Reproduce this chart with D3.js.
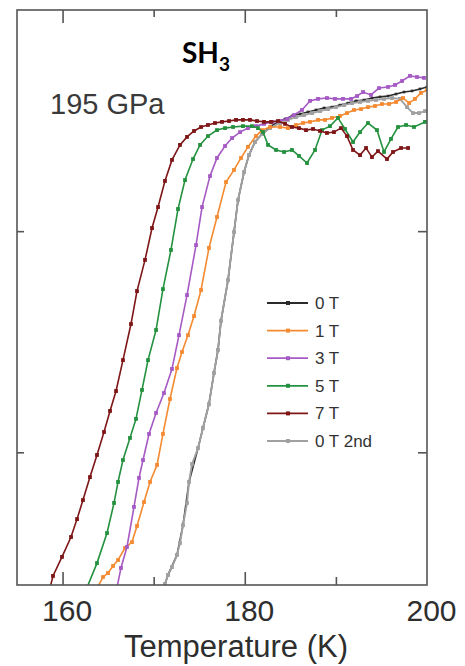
<!DOCTYPE html>
<html>
<head>
<meta charset="utf-8">
<script src="https://cdn.jsdelivr.net/npm/d3@7"></script>
<style>
  html, body { margin: 0; padding: 0; background: #fff; }
  svg { display: block; }
</style>
</head>
<body>
<svg id="chart" width="465" height="666"></svg>
<script>
// temperature (K), resistance (arb. units)
const t0 = [ 171.02, 171.57, 172.56, 173.22, 173.88, 174.87, 175.41, 176.07, 176.62, 177.06, 177.39, 178.16, 178.82, 179.26, 179.92, 180.46, 181.12, 181.89, 182.88, 183.65, 184.42, 185.18, 186.06, 186.94, 187.82, 188.70, 189.57, 190.45, 191.33, 192.21, 193.09, 193.96, 194.84, 195.72, 196.60, 197.48, 198.35, 199.23, 200.00 ];
const r0 = [ 0.377, 0.445, 0.536, 0.671, 0.866, 1.019, 1.110, 1.218, 1.359, 1.463, 1.594, 1.779, 1.996, 2.141, 2.267, 2.344, 2.403, 2.439, 2.475, 2.494, 2.507, 2.521, 2.530, 2.539, 2.548, 2.557, 2.561, 2.570, 2.579, 2.589, 2.593, 2.602, 2.607, 2.611, 2.620, 2.629, 2.634, 2.643, 2.652 ];

const t1 = [ 163.67, 164.44, 164.99, 165.54, 166.09, 166.85, 167.62, 168.17, 168.94, 169.60, 170.37, 171.02, 171.79, 172.56, 173.11, 173.77, 174.43, 175.20, 176.07, 176.95, 177.94, 178.82, 179.59, 180.35, 181.23, 181.89, 182.77, 183.87, 184.74, 185.62, 186.39, 187.16, 188.04, 188.81, 189.57, 190.45, 191.22, 191.99, 192.76, 193.52, 194.29, 195.06, 195.83, 196.60, 197.37, 198.03, 198.68, 199.34, 200.00 ];
const r1 = [ 0.377, 0.436, 0.454, 0.486, 0.513, 0.567, 0.594, 0.667, 0.775, 0.866, 0.943, 1.083, 1.241, 1.381, 1.454, 1.530, 1.616, 1.734, 1.924, 2.064, 2.222, 2.277, 2.331, 2.381, 2.430, 2.457, 2.471, 2.471, 2.466, 2.480, 2.489, 2.494, 2.503, 2.503, 2.512, 2.521, 2.534, 2.548, 2.552, 2.561, 2.566, 2.575, 2.575, 2.584, 2.602, 2.579, 2.598, 2.625, 2.638 ];

const t3 = [ 165.87, 166.41, 167.07, 167.84, 168.39, 168.83, 169.49, 170.26, 171.13, 172.01, 172.78, 173.66, 174.65, 175.31, 176.18, 176.95, 177.83, 178.60, 179.48, 180.35, 181.23, 182.11, 182.99, 183.87, 184.63, 185.40, 186.28, 187.16, 188.04, 189.02, 189.90, 190.78, 191.66, 192.32, 192.98, 193.85, 194.73, 195.72, 196.49, 197.26, 198.13, 198.90, 199.67 ];
const r3 = [ 0.368, 0.477, 0.572, 0.753, 0.884, 0.965, 1.083, 1.178, 1.268, 1.377, 1.530, 1.711, 1.937, 2.109, 2.249, 2.331, 2.385, 2.421, 2.448, 2.466, 2.475, 2.485, 2.494, 2.498, 2.507, 2.525, 2.548, 2.589, 2.598, 2.602, 2.598, 2.598, 2.598, 2.611, 2.629, 2.616, 2.647, 2.652, 2.661, 2.679, 2.702, 2.697, 2.693 ];

const t5 = [ 162.57, 163.78, 164.88, 165.65, 166.09, 166.63, 167.40, 168.06, 168.72, 169.38, 170.26, 171.02, 171.90, 172.67, 173.44, 174.32, 175.09, 175.96, 176.95, 177.83, 178.71, 179.80, 180.79, 181.45, 182.00, 182.55, 183.43, 184.31, 185.18, 185.95, 186.83, 187.71, 188.48, 189.35, 190.23, 191.00, 191.88, 192.65, 193.52, 194.51, 195.28, 196.05, 196.82, 197.70, 198.57, 199.78 ];
const r5 = [ 0.377, 0.499, 0.635, 0.771, 0.866, 0.965, 1.065, 1.151, 1.282, 1.417, 1.553, 1.738, 1.915, 2.100, 2.231, 2.326, 2.390, 2.430, 2.457, 2.466, 2.471, 2.475, 2.475, 2.466, 2.448, 2.390, 2.367, 2.358, 2.367, 2.340, 2.308, 2.367, 2.457, 2.475, 2.512, 2.462, 2.403, 2.448, 2.489, 2.457, 2.358, 2.417, 2.471, 2.480, 2.471, 2.494 ];

const t7 = [ 158.51, 158.95, 159.94, 160.93, 161.59, 162.24, 163.01, 163.78, 164.55, 165.21, 165.87, 166.63, 167.51, 168.17, 169.05, 169.82, 170.48, 171.24, 172.01, 172.89, 173.66, 174.43, 175.20, 175.96, 176.73, 177.50, 178.27, 179.04, 179.80, 180.57, 181.34, 182.11, 182.88, 183.65, 184.42, 185.18, 185.95, 186.72, 187.49, 188.26, 189.02, 189.79, 190.56, 191.22, 191.88, 192.65, 193.31, 193.96, 194.62, 195.61, 196.27, 197.15, 197.92 ];
const r7 = [ 0.368, 0.441, 0.527, 0.617, 0.698, 0.784, 0.888, 0.988, 1.092, 1.187, 1.277, 1.417, 1.580, 1.729, 1.870, 2.014, 2.109, 2.227, 2.322, 2.390, 2.426, 2.453, 2.471, 2.480, 2.489, 2.494, 2.498, 2.503, 2.503, 2.503, 2.498, 2.494, 2.494, 2.498, 2.485, 2.471, 2.466, 2.457, 2.462, 2.453, 2.444, 2.448, 2.466, 2.430, 2.367, 2.344, 2.376, 2.335, 2.362, 2.326, 2.358, 2.376, 2.376 ];

const t0b = [ 171.02, 171.24, 171.57, 172.01, 172.56, 172.89, 173.22, 173.66, 173.88, 174.21, 174.87, 175.41, 176.07, 176.62, 177.06, 177.39, 178.16, 178.82, 179.26, 179.92, 180.46, 181.12, 181.89, 182.77, 183.87, 184.74, 185.62, 186.50, 187.38, 188.26, 189.13, 190.01, 190.89, 191.77, 192.65, 193.52, 194.40, 195.28, 196.16, 197.04, 197.81, 198.46, 199.12, 199.78 ];
const r0b = [ 0.377, 0.405, 0.445, 0.481, 0.536, 0.590, 0.671, 0.771, 0.866, 0.947, 1.019, 1.110, 1.218, 1.359, 1.463, 1.594, 1.779, 1.996, 2.141, 2.267, 2.344, 2.403, 2.439, 2.466, 2.489, 2.503, 2.516, 2.525, 2.534, 2.543, 2.552, 2.561, 2.570, 2.579, 2.584, 2.589, 2.593, 2.598, 2.602, 2.598, 2.561, 2.534, 2.534, 2.543 ];

const seriesNames = [ "0 T", "1 T", "3 T", "5 T", "7 T", "0 T 2nd" ];
const seriesColors = [ "#2b2b2b", "#f48a32", "#a65ac4", "#24913f", "#7e1617", "#a0a0a0" ];
const seriesT = [ t0, t1, t3, t5, t7, t0b ];
const seriesR = [ r0, r1, r3, r5, r7, r0b ];
const drawOrder = [ 0, 5, 1, 2, 3, 4 ];

const xMajor = [ 160, 180 ];
const xMinor = [ 170, 190 ];
const xLabels = [ 160, 180, 200 ];
const yTicks = [ 1, 2 ];

const svg = d3.select( "#chart" );
const FONT = "'Liberation Sans', Arial, Helvetica, sans-serif";
const M = { left: 17, right: 427, top: 10, bottom: 585 };

const x = d3.scaleLinear().domain( [ 155, 200 ] ).range( [ M.left, M.right ] );
const y = d3.scaleLinear().domain( [ 0.4, 3.0 ] ).range( [ M.bottom, M.top ] );

svg.append( "clipPath" ).attr( "id", "plotclip" )
  .append( "rect" )
  .attr( "x", M.left ).attr( "y", M.top )
  .attr( "width", M.right - M.left ).attr( "height", M.bottom - M.top );

// curves
const line = d3.line().x( d => x( d[0] ) ).y( d => y( d[1] ) );
const plot = svg.append( "g" ).attr( "clip-path", "url(#plotclip)" );

drawOrder.forEach( i => {
  const pts = seriesT[i].map( ( t, k ) => [ t, seriesR[i][k] ] );
  const g = plot.append( "g" );
  g.append( "path" )
    .datum( pts )
    .attr( "d", line )
    .attr( "fill", "none" )
    .attr( "stroke", seriesColors[i] )
    .attr( "stroke-width", i === 5 ? 1.9 : 1.6 );
  const s = i === 0 ? 2.6 : 3.8;
  g.selectAll( "rect" )
    .data( pts )
    .enter()
    .append( "rect" )
    .attr( "x", d => x( d[0] ) - s / 2 )
    .attr( "y", d => y( d[1] ) - s / 2 )
    .attr( "width", s )
    .attr( "height", s )
    .attr( "fill", seriesColors[i] );
} );

// axes: ticks point inward
const styleAxis = g => {
  g.select( ".domain" ).remove();
  g.selectAll( "line" ).attr( "stroke", "#555" ).attr( "stroke-width", 1.6 );
};

svg.append( "g" ).attr( "transform", `translate(0,${M.bottom})` )
  .call( d3.axisBottom( x ).tickValues( xMajor ).tickSize( -13 ).tickFormat( "" ) )
  .call( styleAxis );
svg.append( "g" ).attr( "transform", `translate(0,${M.bottom})` )
  .call( d3.axisBottom( x ).tickValues( xMinor ).tickSize( -8 ).tickFormat( "" ) )
  .call( styleAxis );
svg.append( "g" ).attr( "transform", `translate(0,${M.top})` )
  .call( d3.axisTop( x ).tickValues( xMajor ).tickSize( -13 ).tickFormat( "" ) )
  .call( styleAxis );
svg.append( "g" ).attr( "transform", `translate(0,${M.top})` )
  .call( d3.axisTop( x ).tickValues( xMinor ).tickSize( -7 ).tickFormat( "" ) )
  .call( styleAxis );
svg.append( "g" ).attr( "transform", `translate(${M.left},0)` )
  .call( d3.axisLeft( y ).tickValues( yTicks ).tickSize( -7 ).tickFormat( "" ) )
  .call( styleAxis );
svg.append( "g" ).attr( "transform", `translate(${M.right},0)` )
  .call( d3.axisRight( y ).tickValues( yTicks ).tickSize( -9 ).tickFormat( "" ) )
  .call( styleAxis );

// tick labels
const lab = svg.append( "g" ).attr( "transform", `translate(4,${M.bottom})` )
  .call( d3.axisBottom( x ).tickValues( xLabels ).tickSize( 0 ).tickPadding( 15 ).tickFormat( d3.format( "d" ) ) );
lab.select( ".domain" ).remove();
lab.selectAll( "text" )
  .attr( "font-family", FONT )
  .attr( "font-size", 30 )
  .attr( "fill", "#2e2e2e" );

svg.append( "rect" )
  .attr( "x", M.left ).attr( "y", M.top )
  .attr( "width", M.right - M.left ).attr( "height", M.bottom - M.top )
  .attr( "fill", "none" )
  .attr( "stroke", "#555" )
  .attr( "stroke-width", 1.6 );

svg.append( "text" )
  .attr( "x", 236 ).attr( "y", 657 )
  .attr( "text-anchor", "middle" )
  .attr( "font-family", FONT )
  .attr( "font-size", 31 )
  .attr( "fill", "#2e2e2e" )
  .text( "Temperature (K)" );

svg.append( "text" )
  .attr( "x", 50 ).attr( "y", 114 )
  .attr( "font-family", FONT )
  .attr( "font-size", 29 )
  .attr( "fill", "#3a3a3a" )
  .text( "195 GPa" );

const title = svg.append( "text" )
  .attr( "x", 182 ).attr( "y", 63 )
  .attr( "font-family", "Lato, 'Open Sans', sans-serif" )
  .attr( "font-weight", "bold" )
  .attr( "font-size", 28 )
  .attr( "fill", "#000" );
title.append( "tspan" ).text( "SH" );
title.append( "tspan" ).attr( "dy", 8 ).attr( "font-size", 19 ).text( "3" );

// legend
const legend = svg.append( "g" );
seriesNames.forEach( ( name, i ) => {
  const ly = 303 + i * 27.6;
  legend.append( "line" )
    .attr( "x1", 267 ).attr( "x2", 308 )
    .attr( "y1", ly ).attr( "y2", ly )
    .attr( "stroke", seriesColors[i] )
    .attr( "stroke-width", 1.8 );
  legend.append( "rect" )
    .attr( "x", 286 ).attr( "y", ly - 2 )
    .attr( "width", 4 ).attr( "height", 4 )
    .attr( "fill", seriesColors[i] );
  legend.append( "text" )
    .attr( "x", 315 ).attr( "y", ly + 6 )
    .attr( "font-family", FONT )
    .attr( "font-size", 17 )
    .attr( "fill", "#333" )
    .text( name );
} );
</script>
</body>
</html>
